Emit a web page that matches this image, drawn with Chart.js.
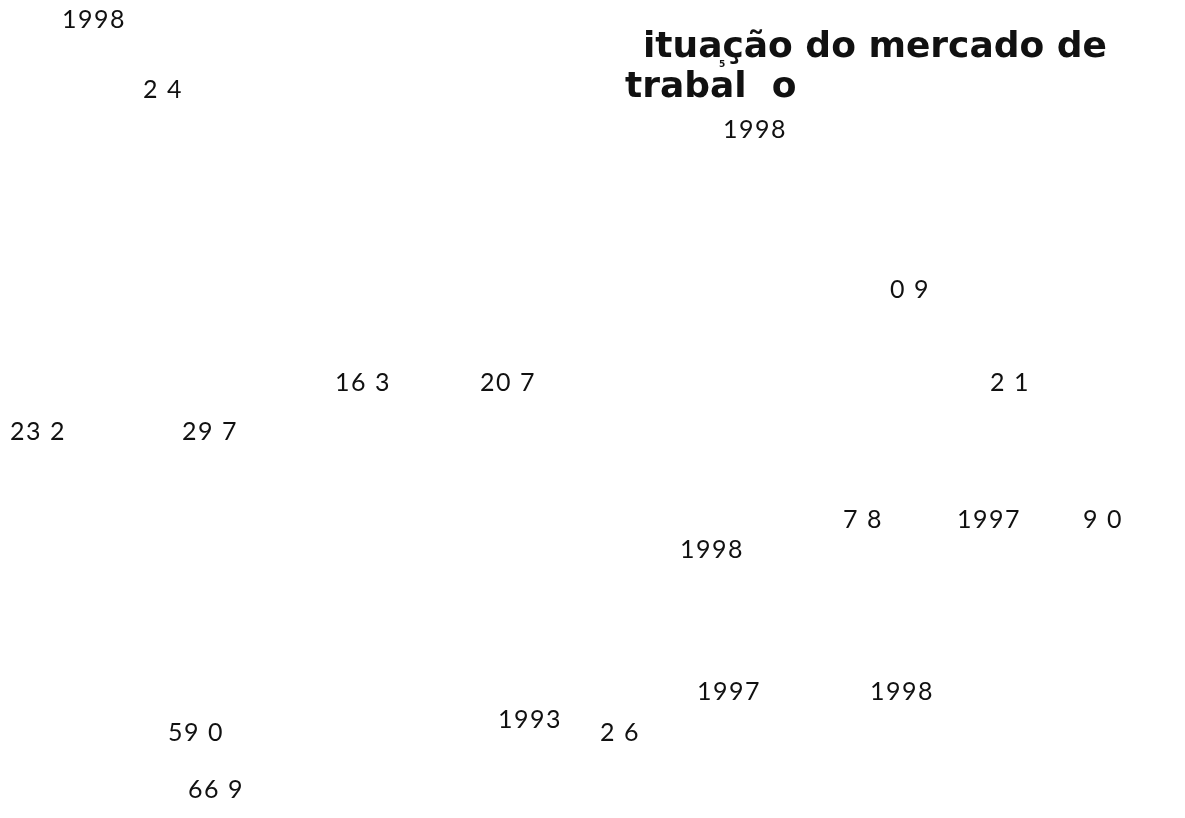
<!DOCTYPE html>
<html>
<head>
<meta charset="utf-8">
<script src="https://cdn.jsdelivr.net/npm/chart.js@4.4.1/dist/chart.umd.min.js"></script>
<style>
  html, body { margin: 0; padding: 0; background: #ffffff; }
  #wrap { width: 1185px; height: 818px; }
</style>
</head>
<body>
<div id="wrap"><canvas id="page" width="1185" height="818"></canvas></div>
<script>
// text fragments left on the page, with their page position (x from left, y from top)
const numberTexts = ["1998", "2 4", "1998", "0 9", "16 3", "20 7", "2 1", "23 2", "29 7",
  "7 8", "1997", "9 0", "1998", "1997", "1998", "1993", "59 0", "2 6", "66 9"];
const numberX = [62, 143, 723, 890, 335, 480, 990, 10, 182,
  843, 957, 1083, 680, 697, 870, 498, 168, 600, 188];
const numberY = [20, 90, 130, 290, 383, 383, 383, 432, 432,
  520, 520, 520, 550, 692, 692, 720, 733, 733, 790];

const titleTexts = ["ituação do mercado de", "trabal  o"];
const titleX = [643, 625];
const titleY = [48, 88];

const noteTexts = ["5"];
const noteX = [719];
const noteY = [65];

function toPoints(xs, ys) {
  return xs.map((x, i) => ({ x: x, y: ys[i] }));
}

const textPlugin = {
  id: "pageText",
  afterDatasetsDraw(chart) {
    const ctx = chart.ctx;
    chart.data.datasets.forEach((ds, di) => {
      const meta = chart.getDatasetMeta(di);
      ctx.save();
      ctx.font = ds.textFont;
      ctx.letterSpacing = ds.textSpacing || "0px";
      ctx.fillStyle = "#111111";
      ctx.textAlign = "left";
      ctx.textBaseline = "middle";
      meta.data.forEach((pt, i) => {
        ctx.fillText(ds.texts[i], pt.x, pt.y);
      });
      ctx.restore();
    });
  }
};

new Chart(document.getElementById("page"), {
  type: "scatter",
  data: {
    datasets: [
      {
        label: "números",
        data: toPoints(numberX, numberY),
        texts: numberTexts,
        textFont: "25px Lato",
        textSpacing: "1.5px",
        pointRadius: 0
      },
      {
        label: "título",
        data: toPoints(titleX, titleY),
        texts: titleTexts,
        textFont: "bold 36px 'DejaVu Sans'",
        pointRadius: 0
      },
      {
        label: "nota",
        data: toPoints(noteX, noteY),
        texts: noteTexts,
        textFont: "bold 9px 'DejaVu Sans'",
        pointRadius: 0
      }
    ]
  },
  plugins: [textPlugin],
  options: {
    responsive: false,
    animation: false,
    layout: { padding: 0 },
    plugins: {
      legend: { display: false },
      tooltip: { enabled: false }
    },
    scales: {
      x: { type: "linear", min: 0, max: 1185, display: false },
      y: { type: "linear", min: 0, max: 818, reverse: true, display: false }
    }
  }
});
</script>
</body>
</html>
